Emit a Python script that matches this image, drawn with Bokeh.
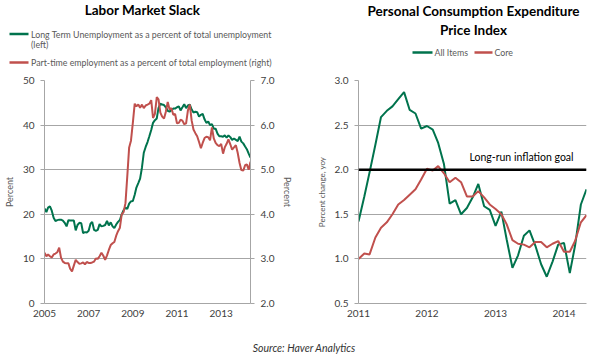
import pandas as pd
from bokeh.plotting import figure
from bokeh.models import (Range1d, LinearAxis, Label, Span,
                          FixedTicker, DatetimeTickFormatter, Div, NumeralTickFormatter)
from bokeh.core.properties import value
from bokeh.layouts import row, column
from bokeh.embed import file_html
from bokeh.resources import INLINE

# ---------------- Data: Labor Market Slack (monthly, Jan 2005 - May 2014) ----------------
slack_start = "2005-01-01"
long_term_unemp = [  # percent of total unemployment (left axis)
    21.3, 20.5, 21.5, 21.8, 20.8, 19.2, 18.5, 18.7, 18.8, 18.8, 18.6, 18.1,
    17.3, 18.7, 18.6, 18.6, 18.6, 16.4, 17.6, 18.1, 18.0, 15.8, 16.0, 15.9,
    16.3, 17.9, 18.3, 16.5, 16.3, 16.5, 17.8, 17.3, 17.4, 17.6, 18.5, 17.5,
    18.2, 17.3, 16.9, 17.7, 18.3, 18.7, 20.0, 20.9, 21.5, 21.2, 22.4, 22.9,
    23.0, 24.4, 26.0, 27.0, 28.0, 30.5, 33.8, 35.1, 36.2, 37.5, 38.9, 40.5,
    41.1, 41.5, 43.8, 44.8, 44.6, 44.5, 44.0, 43.2, 43.0, 43.4, 43.7, 43.7,
    44.0, 44.2, 43.3, 44.0, 44.7, 43.8, 44.4, 44.6, 43.5, 42.8, 43.0, 42.9,
    41.9, 42.3, 42.5, 41.3, 40.5, 40.8, 40.0, 40.2, 39.2, 39.2, 38.1, 37.5,
    37.5, 37.4, 37.7, 37.2, 37.7, 37.3, 36.7, 37.0, 36.7, 36.4, 37.4, 36.3,
    35.9, 35.2, 34.6, 33.6, 32.7,
]
part_time = [  # percent of total employment (right axis)
    3.14, 3.06, 3.10, 3.06, 3.03, 3.10, 3.12, 3.15, 3.25, 3.03, 2.94, 2.91,
    2.90, 2.90, 2.78, 2.72, 2.85, 2.98, 2.93, 2.89, 2.90, 2.92, 2.88, 2.93,
    2.91, 2.91, 2.92, 2.94, 3.01, 3.00, 3.06, 3.14, 3.07, 2.98, 3.08, 3.20,
    3.31, 3.35, 3.38, 3.52, 3.62, 3.70, 4.00, 4.05, 4.25, 4.85, 5.50, 5.65,
    6.05, 6.48, 6.42, 6.46, 6.39, 6.46, 6.38, 6.44, 6.46, 6.48, 6.56, 6.16,
    6.25, 6.63, 6.58, 6.28, 6.19, 6.15, 6.30, 6.52, 6.35, 6.38, 6.23, 6.25,
    6.04, 6.05, 6.12, 6.10, 6.02, 6.04, 6.33, 6.46, 6.10, 5.90, 5.82, 5.75,
    5.62, 5.48, 5.60, 5.71, 5.74, 5.73, 5.66, 5.95, 5.70, 5.60, 5.55, 5.53,
    5.58, 5.36, 5.50, 5.58, 5.68, 5.57, 5.45, 5.50, 5.55, 5.38, 5.15, 4.99,
    4.98, 5.10, 5.12, 5.00, 5.18,
]
slack_years = ["2005", "2007", "2009", "2011", "2013"]
left_ticks = [0, 10, 20, 30, 40, 50]
right_ticks = [2.0, 3.0, 4.0, 5.0, 6.0, 7.0]
slack_title = "Labor Market Slack"
slack_legend = ["Long Term Unemployment as a percent of total unemployment", "(left)",
                "Part-time employment as a percent of total employment (right)"]

# ---------------- Data: PCE Price Index (monthly, Jan 2011 - May 2014) ----------------
pce_start = "2011-01-01"
pce_all_items = [
    1.42, 1.70, 1.97, 2.28, 2.59, 2.66, 2.71, 2.79, 2.87, 2.67, 2.63, 2.46,
    2.49, 2.45, 2.30, 2.06, 1.62, 1.66, 1.50, 1.57, 1.69, 1.84, 1.59, 1.55,
    1.37, 1.53, 1.22, 0.90, 1.04, 1.26, 1.32, 1.15, 0.94, 0.80, 0.97, 1.16,
    1.18, 0.84, 1.15, 1.61, 1.78,
]
pce_core = [
    1.00, 1.06, 1.05, 1.24, 1.35, 1.41, 1.50, 1.61, 1.66, 1.72, 1.78, 1.89,
    2.01, 1.99, 2.04, 1.96, 1.86, 1.91, 1.86, 1.70, 1.70, 1.76, 1.69, 1.61,
    1.56, 1.50, 1.39, 1.21, 1.17, 1.16, 1.13, 1.19, 1.19, 1.13, 1.17, 1.20,
    1.08, 1.08, 1.20, 1.41, 1.49,
]
pce_years = ["2011", "2012", "2013", "2014"]
pce_ticks = [0.5, 1.0, 1.5, 2.0, 2.5, 3.0]
pce_title = ["Personal Consumption Expenditure", "Price Index"]
pce_legend = ["All Items", "Core"]
inflation_goal = 2.0
goal_label = "Long-run inflation goal"
goal_label_date = "2012-08-15"
source_text = "Source: Haver Analytics"

GREEN = "#00734D"
RED = "#C0504D"
GRID = "#a6a6a6"
FONT = "Lato"
LEG_COLOR = "#595959"
LEG_SIZE = "8.8px"

slack_dates = pd.date_range(slack_start, periods=len(long_term_unemp), freq="MS")
pce_dates = pd.date_range(pce_start, periods=len(pce_all_items), freq="MS")


def ms(d):
    return pd.Timestamp(d).timestamp() * 1000.0


def style_axis(ax):
    ax.axis_line_color = GRID
    ax.major_tick_line_color = GRID
    ax.minor_tick_line_color = None
    ax.major_tick_in = 0
    ax.major_tick_out = 4
    ax.major_label_standoff = 6
    ax.major_label_text_font = FONT
    ax.major_label_text_font_size = "10px"
    ax.major_label_text_color = "#404040"
    ax.axis_label_text_font = FONT
    ax.axis_label_text_font_size = "9px"
    ax.axis_label_text_font_style = "normal"
    ax.axis_label_text_color = LEG_COLOR


def year_formatter():
    return DatetimeTickFormatter(years="%Y", months="%Y", days="%Y", hours="%Y")


# ================= Header (titles + legends of both charts), pixel-scaled =================
HW, HH = 598, 74
hd = figure(width=HW, height=HH, x_range=Range1d(0, HW), y_range=Range1d(0, HH),
            x_axis_location=None, y_axis_location=None, output_backend="svg",
            toolbar_location=None, min_border=0)
hd.title.visible = False
hd.outline_line_color = None
hd.grid.visible = False


def head_text(x, y, text, size, bold=False, align="left", color=LEG_COLOR):
    hd.text(x=[x], y=[y], text=[text], text_font=value(FONT), text_font_size=size,
            text_font_style="bold" if bold else "normal", text_align=align,
            text_baseline="middle", text_color=color)


def head_swatch(x0, x1, y, color):
    hd.segment(x0=[x0], y0=[y], x1=[x1], y1=[y], line_color=color, line_width=2.5)


# left chart header
head_text(142, 65, slack_title, "13.5px", bold=True, align="center", color="#000000")
head_swatch(9, 28, 40.4, GREEN)
head_text(30.5, 40.4, slack_legend[0], LEG_SIZE)
head_text(30.5, 30.3, slack_legend[1], LEG_SIZE)
head_swatch(9, 28, 12, RED)
head_text(30.5, 12, slack_legend[2], LEG_SIZE)
# right chart header
head_text(473, 64, pce_title[0], "13.5px", bold=True, align="center", color="#000000")
head_text(473, 45, pce_title[1], "13.5px", bold=True, align="center", color="#000000")
head_swatch(412, 432, 22, GREEN)
head_text(434, 22, pce_legend[0], LEG_SIZE)
head_swatch(474, 492, 22, RED)
head_text(494, 22, pce_legend[1], LEG_SIZE)

# ================= Left chart =================
f1 = figure(width=298, height=256, x_axis_type="datetime",
            x_range=Range1d(slack_dates[0], slack_dates[-1]), y_range=Range1d(0, 50),
            output_backend="svg", toolbar_location=None,
            min_border_left=32, min_border_right=48, min_border_top=6, min_border_bottom=27)
f1.title.visible = False
f1.outline_line_color = None
f1.extra_y_ranges = {"right": Range1d(2, 7)}

f1.line(slack_dates, long_term_unemp, line_color=GREEN, line_width=2)
f1.line(slack_dates, part_time, line_color=RED, line_width=2, y_range_name="right")

f1.xaxis.ticker = FixedTicker(ticks=[ms(y + "-01-01") for y in slack_years])
f1.xaxis.formatter = year_formatter()
f1.yaxis.ticker = FixedTicker(ticks=left_ticks)
f1.yaxis.axis_label = "Percent"
ax_r = LinearAxis(y_range_name="right", ticker=FixedTicker(ticks=right_ticks),
                  formatter=NumeralTickFormatter(format="0.0"), axis_label="Percent")
f1.add_layout(ax_r, "right")
for ax in [f1.xaxis[0], f1.yaxis[0], ax_r]:
    style_axis(ax)
f1.xaxis.major_tick_out = 0
f1.xgrid.visible = False
f1.ygrid.grid_line_color = GRID

# ================= Right chart =================
f2 = figure(width=300, height=256, x_axis_type="datetime",
            x_range=Range1d(pce_dates[0], pce_dates[-1]), y_range=Range1d(0.5, 3.0),
            output_backend="svg", toolbar_location=None,
            min_border_left=60, min_border_right=12, min_border_top=4, min_border_bottom=27)
f2.title.visible = False
f2.outline_line_color = None

f2.add_layout(Span(location=inflation_goal, dimension="width", line_color="black", line_width=2.5))
f2.line(pce_dates, pce_all_items, line_color=GREEN, line_width=2)
f2.line(pce_dates, pce_core, line_color=RED, line_width=2)

f2.xaxis.ticker = FixedTicker(ticks=[ms(y + "-01-01") for y in pce_years])
f2.xaxis.formatter = year_formatter()
f2.yaxis.ticker = FixedTicker(ticks=pce_ticks)
f2.yaxis.formatter = NumeralTickFormatter(format="0.0")
f2.yaxis.axis_label = "Percent change, yoy"
for ax in [f2.xaxis[0], f2.yaxis[0]]:
    style_axis(ax)
f2.yaxis.axis_label_text_font_size = "8px"
f2.xaxis.major_tick_out = 0
f2.xgrid.visible = False
f2.ygrid.grid_line_color = GRID

f2.add_layout(Label(x=ms(goal_label_date), y=inflation_goal + 0.14, text=goal_label,
                    text_align="left", text_baseline="middle", text_font=FONT,
                    text_font_size="10.5px", text_color="#000000"))

source = Div(text=source_text, width=598, height=26,
             styles={"text-align": "center", "font-family": FONT, "font-style": "italic",
                     "font-size": "10.5px", "color": "#333333", "line-height": "26px"})

layout = column(hd, row(f1, f2, spacing=0), source, spacing=0)
open("out.html", "w").write(file_html(layout, INLINE))
